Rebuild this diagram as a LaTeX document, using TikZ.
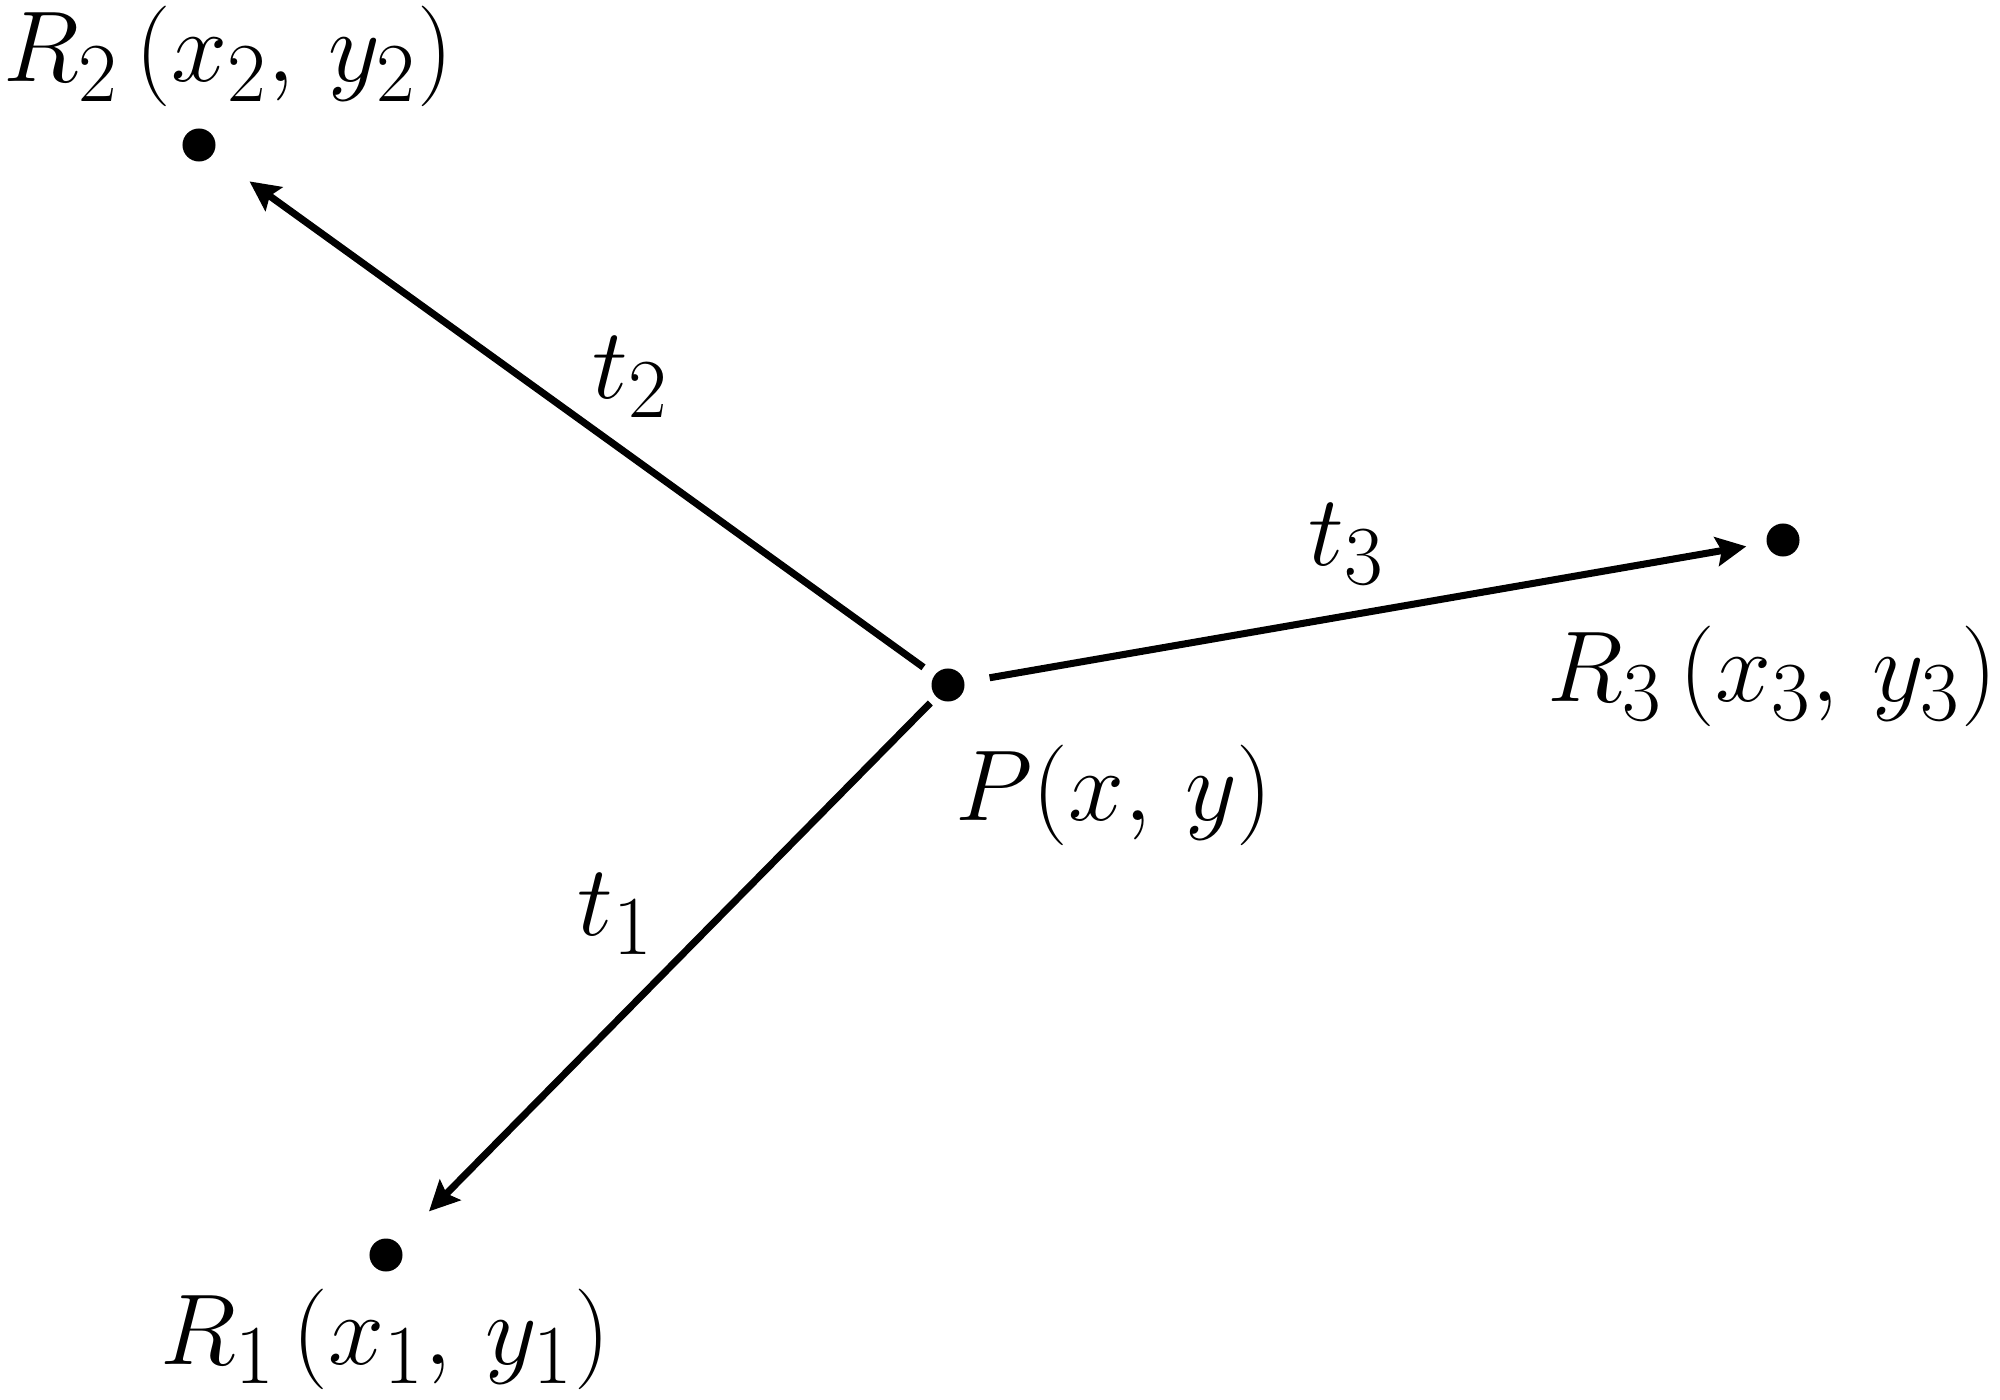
\documentclass[tikz,border=0pt]{standalone}
\usetikzlibrary{arrows.meta}
\begin{document}
\begin{tikzpicture}[x=0.01cm,y=-0.01cm,
  pt/.style={circle,fill=black,inner sep=0pt,minimum size=0.33cm},
  lbl/.style={anchor=base,inner sep=0pt,font=\Huge,scale=1.15},
  conn/.style={line width=2pt,-{Stealth[length=0.3cm,width=0.29cm,inset=0.05cm]}}]
\useasboundingbox (0,0) rectangle (2000,1400);
\node[pt] (P) at (948,685) {};
\node[pt] (R2) at (199,145) {};
\node[pt] (R3) at (1783,540) {};
\node[pt] (R1) at (386,1255) {};
\node[lbl] (LR2) at (228,82) {$R_2\,(x_2,\,y_2)$};
\node[lbl] (LP) at (1114,820) {$P(x,\,y)$};
\node[lbl] (LR3) at (1772,701) {$R_3\,(x_3,\,y_3)$};
\node[lbl] (LR1) at (385,1364) {$R_1\,(x_1,\,y_1)$};
\node[lbl] (T2) at (631,398) {$t_2$};
\node[lbl] (T3) at (1347,565) {$t_3$};
\node[lbl] (T1) at (616,935) {$t_1$};
\draw[conn,shorten <=0.13cm,shorten >=0.45cm] (P) -- (R2);
\draw[conn,shorten <=0.25cm,shorten >=0.2cm] (P) -- (R3);
\draw[conn,shorten <=0.08cm,shorten >=0.44cm] (P) -- (R1);
\end{tikzpicture}
\end{document}
